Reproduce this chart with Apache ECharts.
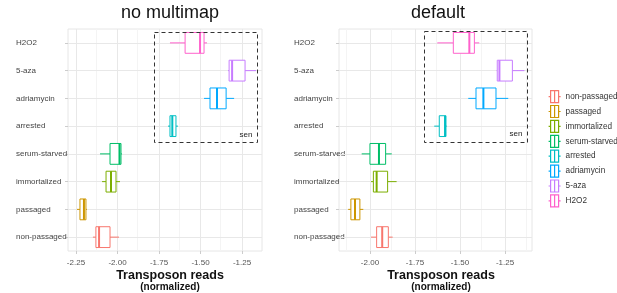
<!DOCTYPE html>
<html>
<head>
<meta charset="utf-8">
<script src="https://cdn.jsdelivr.net/npm/echarts@6/dist/echarts.min.js"></script>
<style>
  html, body { margin: 0; padding: 0; background: #fff; }
  #chart { width: 617px; height: 293px; }
</style>
</head>
<body>
<div id="chart"></div>
<script>
// categories, bottom -> top (also the legend order)
const categories = ['non-passaged', 'passaged', 'immortalized', 'serum-starved', 'arrested', 'adriamycin', '5-aza', 'H2O2'];
const colors = ['#F8766D', '#CD9600', '#7CAE00', '#00BE67', '#00BFC4', '#00A9FF', '#C77CFF', '#FF61CC'];

// [min, q1, median, q3, max]
const noMultimap = [
  [-2.148, -2.130, -2.111, -2.045, -1.991],
  [-2.244, -2.226, -2.202, -2.190, -2.184],
  [-2.093, -2.069, -2.039, -2.009, -1.985],
  [-2.105, -2.045, -1.988, -1.979, -1.973],
  [-1.696, -1.684, -1.670, -1.648, -1.636],
  [-1.479, -1.443, -1.401, -1.346, -1.298],
  [-1.334, -1.328, -1.310, -1.232, -1.166],
  [-1.684, -1.593, -1.503, -1.479, -1.461],
];
const defaultMap = [
  [-1.994, -1.963, -1.932, -1.898, -1.874],
  [-2.121, -2.106, -2.083, -2.056, -2.037],
  [-1.994, -1.981, -1.963, -1.902, -1.852],
  [-2.046, -2.000, -1.950, -1.913, -1.879],
  [-1.643, -1.615, -1.583, -1.578, -1.574],
  [-1.454, -1.411, -1.370, -1.300, -1.232],
  [-1.296, -1.293, -1.281, -1.209, -1.142],
  [-1.626, -1.537, -1.448, -1.420, -1.393],
];

const leftTicks = [-2.25, -2.0, -1.75, -1.5, -1.25];
const leftMinor = [-2.125, -1.875, -1.625, -1.375];
const rightTicks = [-2.0, -1.75, -1.5, -1.25];
const rightMinor = [-2.125, -1.875, -1.625, -1.375, -1.125];

const FONT = 'Liberation Sans, Arial, sans-serif';

function renderBox(params, api) {
  const c = api.value(0);
  const pMin = api.coord([api.value(1), c]);
  const pQ1 = api.coord([api.value(2), c]);
  const pMed = api.coord([api.value(3), c]);
  const pQ3 = api.coord([api.value(4), c]);
  const pMax = api.coord([api.value(5), c]);
  const h = api.size([0, 1])[1] * 0.75;
  const color = api.visual('color');
  const y = pQ1[1];
  return {
    type: 'group',
    children: [
      { type: 'line', shape: { x1: pMin[0], y1: y, x2: pQ1[0], y2: y }, style: { stroke: color, lineWidth: 1 } },
      { type: 'line', shape: { x1: pQ3[0], y1: y, x2: pMax[0], y2: y }, style: { stroke: color, lineWidth: 1 } },
      { type: 'rect', shape: { x: pQ1[0], y: y - h / 2, width: pQ3[0] - pQ1[0], height: h },
        style: { fill: '#fff', stroke: color, lineWidth: 1 } },
      { type: 'line', shape: { x1: pMed[0], y1: y - h / 2, x2: pMed[0], y2: y + h / 2 }, style: { stroke: color, lineWidth: 2 } },
    ],
  };
}

function gridLines(idx, ticks, minor) {
  const data = [];
  minor.forEach((v) => data.push({ xAxis: v, lineStyle: { color: '#f4f4f4', width: 1, type: 'solid' } }));
  ticks.forEach((v) => data.push({ xAxis: v, lineStyle: { color: '#e8e8e8', width: 1, type: 'solid' } }));
  categories.forEach((c) => data.push({ yAxis: c, lineStyle: { color: '#e8e8e8', width: 1, type: 'solid' } }));
  return {
    type: 'line',
    xAxisIndex: idx,
    yAxisIndex: idx,
    data: [],
    silent: true,
    z: 1,
    markLine: { silent: true, z: 1, symbol: 'none', label: { show: false }, animation: false, data: data },
  };
}

function xAxisFor(idx, min, max, ticks) {
  return {
    type: 'value',
    gridIndex: idx,
    min: min,
    max: max,
    splitLine: { show: false },
    axisLine: { show: false },
    axisTick: { show: true, customValues: ticks, length: 3, lineStyle: { color: '#ccc' } },
    axisLabel: {
      customValues: ticks,
      formatter: (v) => v.toFixed(2),
      fontSize: 8,
      color: '#555',
      fontFamily: FONT,
      margin: 8,
    },
  };
}

function yAxisFor(idx, margin) {
  return {
    type: 'category',
    gridIndex: idx,
    data: categories,
    axisLine: { show: false },
    axisTick: { show: true, alignWithLabel: true, length: 3, lineStyle: { color: '#ccc' } },
    splitLine: { show: false },
    axisLabel: { align: 'left', margin: margin, fontSize: 8, color: '#444', fontFamily: FONT },
  };
}

const series = [gridLines(0, leftTicks, leftMinor), gridLines(1, rightTicks, rightMinor)];
[noMultimap, defaultMap].forEach((stats, p) => {
  categories.forEach((name, i) => {
    series.push({
      type: 'custom',
      name: name,
      xAxisIndex: p,
      yAxisIndex: p,
      color: colors[i],
      z: 3,
      renderItem: renderBox,
      encode: { x: [1, 2, 3, 4, 5], y: 0 },
      data: [[i].concat(stats[i])],
    });
  });
});

const chart = echarts.init(document.getElementById('chart'));
chart.setOption({
  animation: false,
  backgroundColor: '#fff',
  textStyle: { fontFamily: FONT },
  grid: [
    { left: 68, top: 29, width: 194, height: 222, show: true, borderColor: '#e6e6e6', borderWidth: 1 },
    { left: 339, top: 29, width: 193, height: 222, show: true, borderColor: '#e6e6e6', borderWidth: 1 },
  ],
  xAxis: [xAxisFor(0, -2.298, -1.13, leftTicks), xAxisFor(1, -2.172, -1.10, rightTicks)],
  yAxis: [yAxisFor(0, 52), yAxisFor(1, 45)],
  legend: {
    orient: 'vertical',
    left: 548,
    top: 90,
    padding: 0,
    itemWidth: 12,
    itemHeight: 12,
    itemGap: 1.7,
    icon: 'path://M0,7H2M2,1H10V13H2ZM6,1V13M10,7H12',
    textStyle: { fontSize: 8.2, lineHeight: 12, color: '#333', fontFamily: FONT, overflow: 'none' },
    data: categories.map((c, i) => ({
      name: c,
      itemStyle: { color: 'rgba(0,0,0,0)', borderColor: colors[i], borderWidth: 1.2 },
    })),
  },
  graphic: [
    { type: 'text', x: 170, y: 4, style: { text: 'no multimap', font: '18px ' + FONT, fill: '#111', align: 'center' } },
    { type: 'text', x: 438, y: 4, style: { text: 'default', font: '18px ' + FONT, fill: '#111', align: 'center' } },
    { type: 'text', x: 170, y: 269, style: { text: 'Transposon reads', font: 'bold 12.5px ' + FONT, fill: '#111', align: 'center' } },
    { type: 'text', x: 170, y: 282, style: { text: '(normalized)', font: 'bold 10px ' + FONT, fill: '#111', align: 'center' } },
    { type: 'text', x: 441, y: 269, style: { text: 'Transposon reads', font: 'bold 12.5px ' + FONT, fill: '#111', align: 'center' } },
    { type: 'text', x: 441, y: 282, style: { text: '(normalized)', font: 'bold 10px ' + FONT, fill: '#111', align: 'center' } },
    { type: 'rect', z: 10, shape: { x: 154.5, y: 32.5, width: 103, height: 110 }, style: { fill: 'none', stroke: '#333', lineWidth: 1, lineDash: [4, 3] } },
    { type: 'rect', z: 10, shape: { x: 424.5, y: 31.5, width: 103, height: 111 }, style: { fill: 'none', stroke: '#333', lineWidth: 1, lineDash: [4, 3] } },
    { type: 'text', z: 10, x: 246, y: 131, style: { text: 'sen', font: '8px ' + FONT, fill: '#222', align: 'center' } },
    { type: 'text', z: 10, x: 516, y: 130, style: { text: 'sen', font: '8px ' + FONT, fill: '#222', align: 'center' } },
  ],
  series: series,
});
</script>
</body>
</html>
